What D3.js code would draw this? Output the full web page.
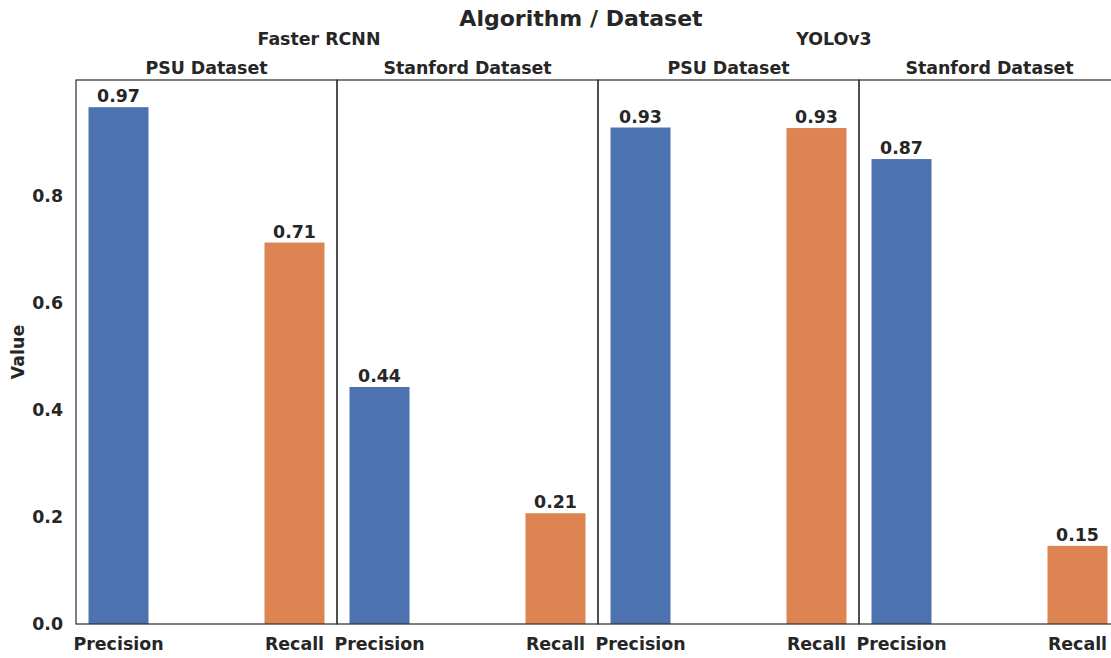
<!DOCTYPE html>
<html><head><meta charset="utf-8">
<script src="https://cdn.jsdelivr.net/npm/d3@7"></script>
<style>
html,body{margin:0;padding:0;background:#fff;}
text{font-family:"DejaVu Sans",sans-serif;font-weight:bold;fill:#262626;}
</style></head>
<body><svg id="chart" width="1111" height="658"></svg>
<script>
const algorithms = ["Faster RCNN", "YOLOv3"];
const datasets = ["PSU Dataset", "Stanford Dataset"];
const metrics = ["Precision", "Recall"];
const precisionValues = [0.966, 0.443, 0.928, 0.869];
const recallValues = [0.713, 0.207, 0.927, 0.146];
const yTicks = [0.0, 0.2, 0.4, 0.6, 0.8];
const chartTitle = "Algorithm / Dataset";
const yLabel = "Value";

(function () {
const colors = {Precision: "#4c72b0", Recall: "#dd8452"};
const svg = d3.select("#chart");
const mLeft = 76, mRight = 1120, mTop = 80, mBottom = 624;

const panels = [];
algorithms.forEach((a, ai) => datasets.forEach((d, di) => {
  const i = ai * datasets.length + di;
  panels.push({id: a + "|" + d, alg: a, ds: d, vals: {Precision: precisionValues[i], Recall: recallValues[i]}});
}));

const xOuter = d3.scaleBand().domain(panels.map(p => p.id)).range([mLeft, mRight]).paddingInner(0).paddingOuter(0);
const pw = xOuter.bandwidth();
const xInner = d3.scalePoint().domain(metrics).range([0, pw]).padding(0.2415);
const y = d3.scaleLinear().domain([0, 1.0168]).range([mBottom, mTop]);
const barW = 60;

panels.forEach(p => {
  const g = svg.append("g").attr("transform", `translate(${xOuter(p.id)},0)`);
  metrics.forEach(m => {
    const v = p.vals[m];
    g.append("rect")
      .attr("x", xInner(m) - barW / 2).attr("width", barW)
      .attr("y", y(v)).attr("height", y(0) - y(v))
      .attr("fill", colors[m]);
    g.append("text")
      .attr("x", xInner(m)).attr("y", y(v) - 5)
      .attr("text-anchor", "middle").style("font-size", "17.4px")
      .text(d3.format(".2f")(v));
    g.append("text")
      .attr("x", xInner(m)).attr("y", 650)
      .attr("text-anchor", "middle").style("font-size", "17.4px")
      .text(m);
  });
  g.append("rect")
    .attr("x", 0).attr("y", mTop).attr("width", pw).attr("height", mBottom - mTop)
    .attr("fill", "none").attr("stroke", "#333").attr("stroke-width", 1.25);
  svg.append("text")
    .attr("x", xOuter(p.id) + pw / 2).attr("y", 74)
    .attr("text-anchor", "middle").style("font-size", "17.4px")
    .text(p.ds);
});

const algOffsets = [-18, -25];
algorithms.forEach((a, ai) => {
  const ps = panels.filter(p => p.alg === a);
  const cx = (xOuter(ps[0].id) + xOuter(ps[ps.length - 1].id) + pw) / 2 + algOffsets[ai];
  svg.append("text").attr("x", cx).attr("y", 45)
    .attr("text-anchor", "middle").style("font-size", "17.4px").text(a);
});

const yAxis = d3.axisLeft(y).tickValues(yTicks).tickFormat(d3.format(".1f")).tickSize(0).tickPadding(13);
const ya = svg.append("g").attr("transform", `translate(${mLeft},0)`).call(yAxis);
ya.select(".domain").remove();
ya.selectAll("text").style("font-size", "17.4px").style("font-family", "DejaVu Sans").style("font-weight", "bold").attr("fill", "#262626");

svg.append("text")
  .attr("transform", `translate(24,${(mTop + mBottom) / 2}) rotate(-90)`)
  .attr("text-anchor", "middle").style("font-size", "17.4px").text(yLabel);

svg.append("text").attr("x", 581).attr("y", 26)
  .attr("text-anchor", "middle").style("font-size", "22px").text(chartTitle);
})();
</script></body></html>
